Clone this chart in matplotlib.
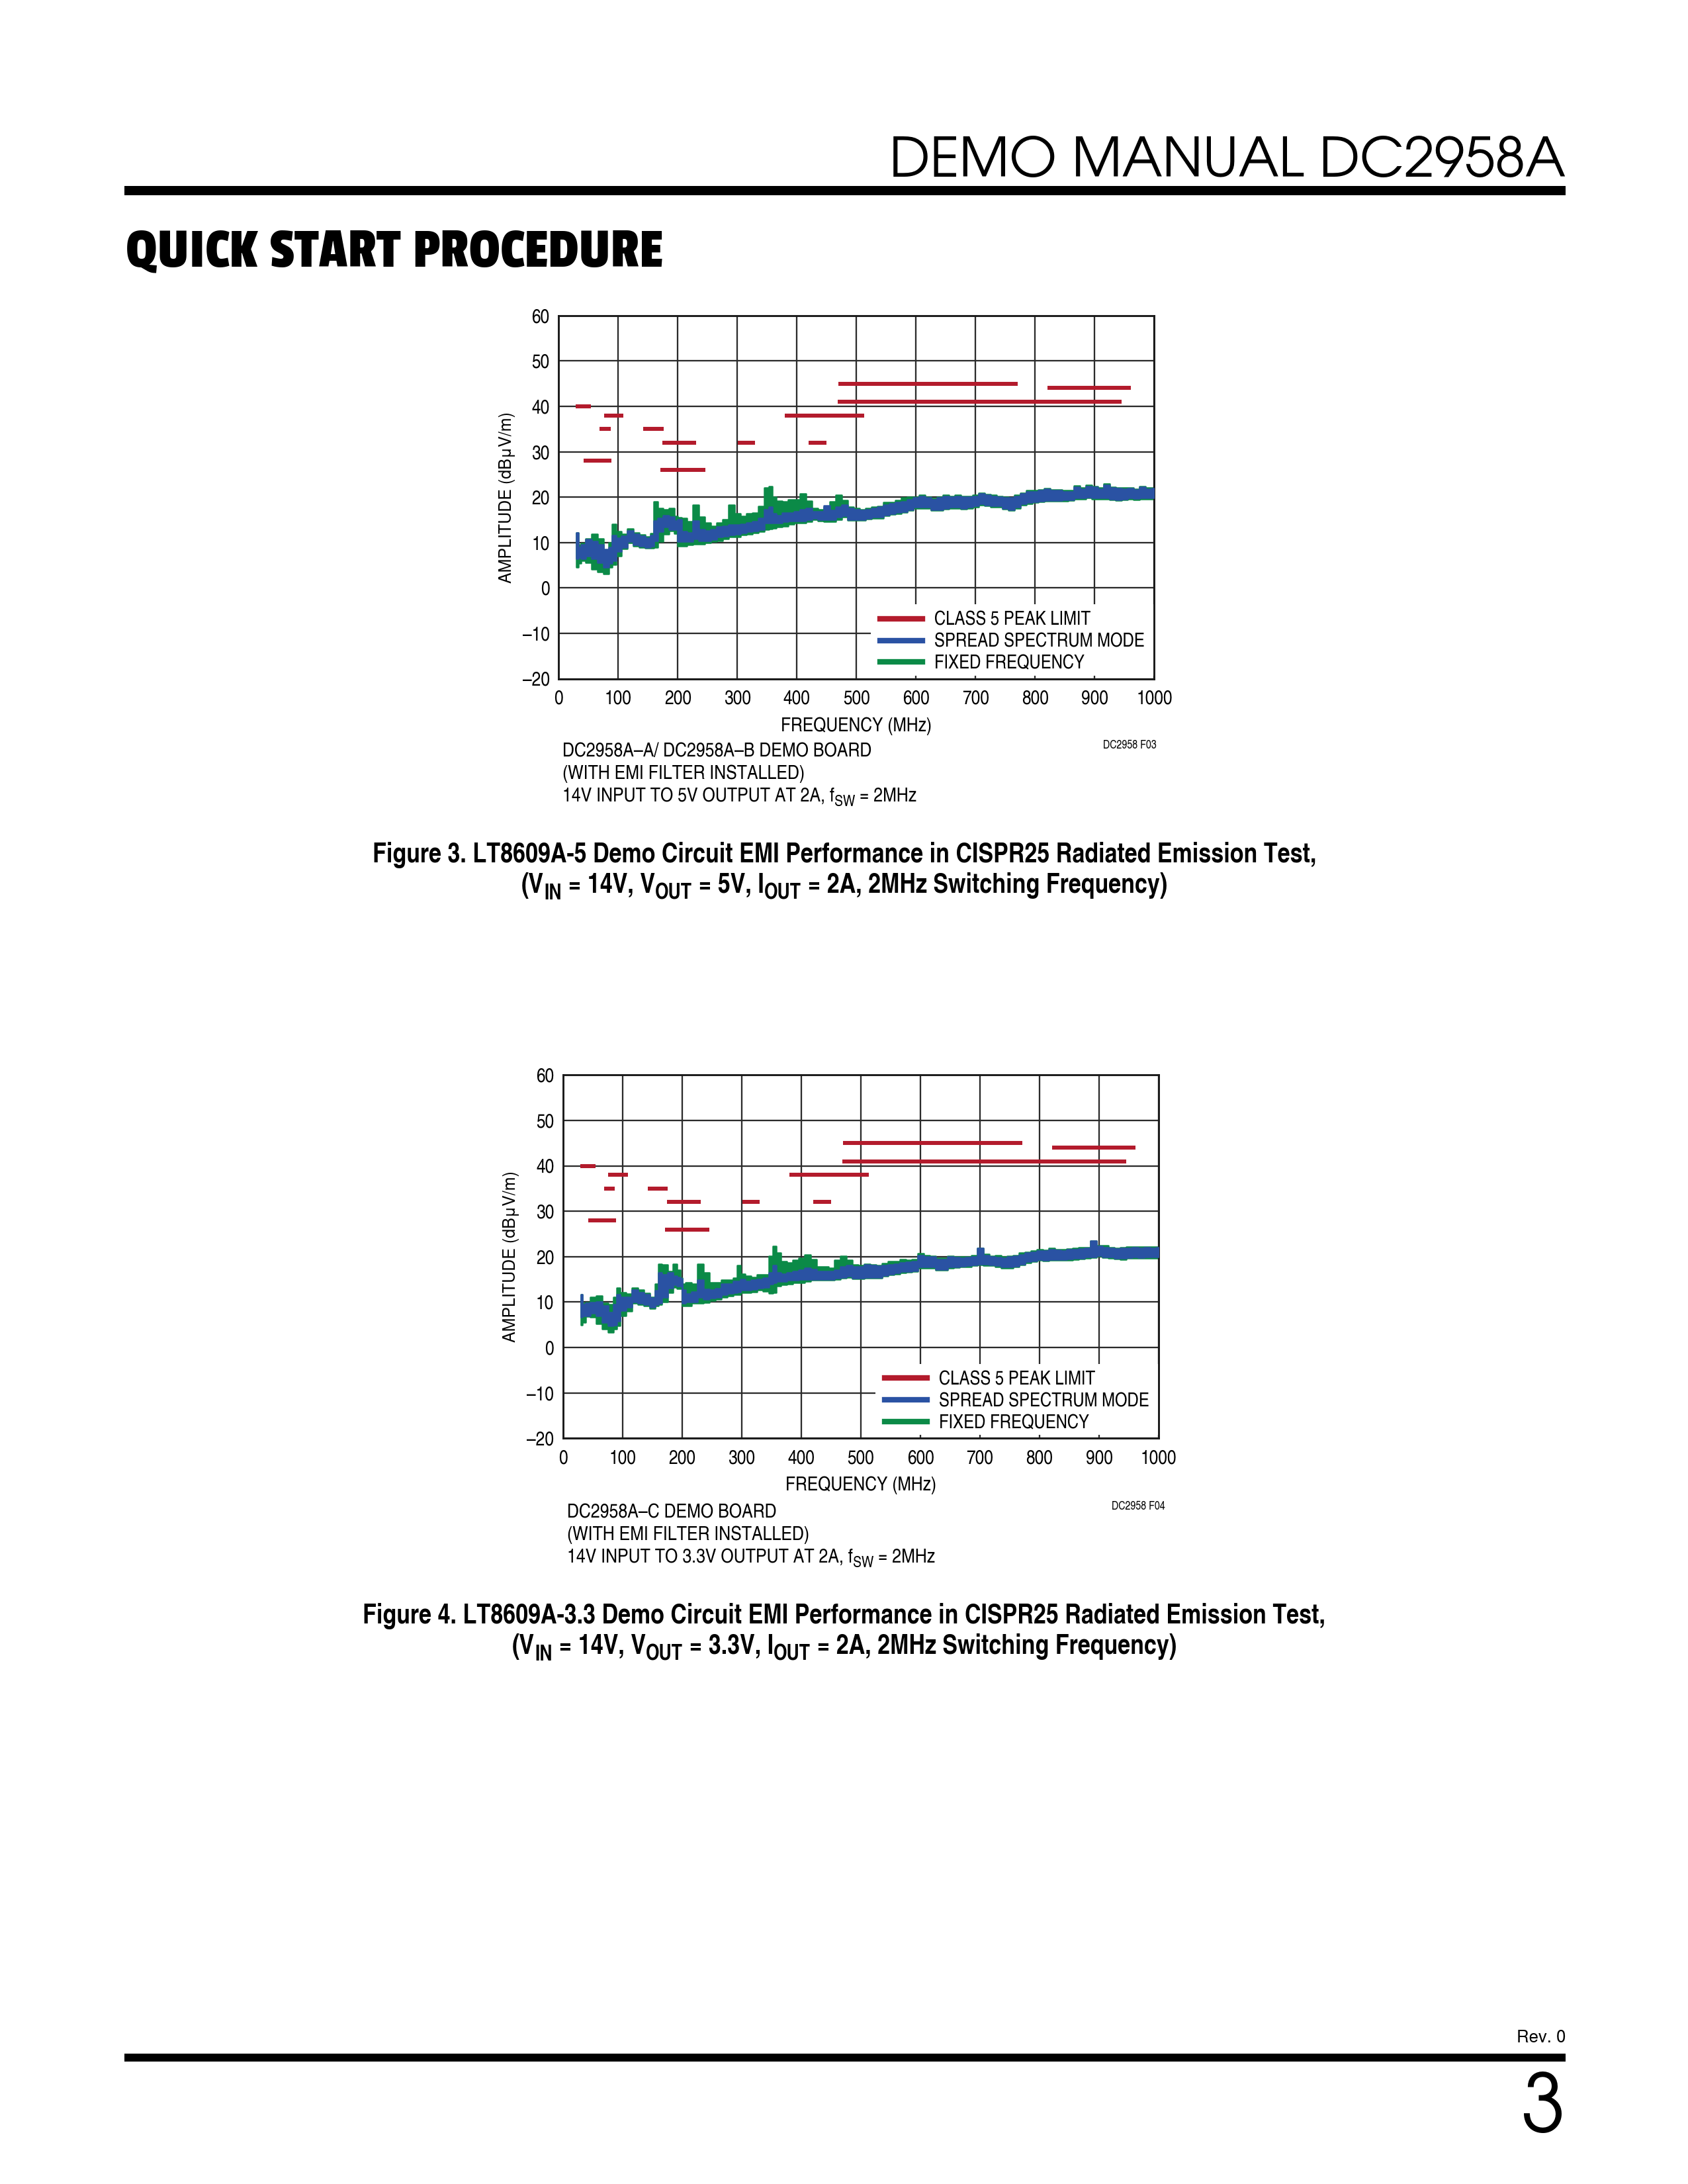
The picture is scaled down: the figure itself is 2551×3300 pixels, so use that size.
import numpy as np
import matplotlib
matplotlib.use("Agg")
import matplotlib.pyplot as plt
from matplotlib import font_manager as fm
from matplotlib.lines import Line2D
from matplotlib.patches import Rectangle

# ---------------- data ----------------
x_ticks = [0, 100, 200, 300, 400, 500, 600, 700, 800, 900, 1000]
y_ticks = [-20, -10, 0, 10, 20, 30, 40, 50, 60]
y_tick_labels = ["\u201320", "\u201310", "0", "10", "20", "30", "40", "50", "60"]

# CISPR25 class 5 peak limit segments (MHz, MHz, dBuV/m)
lim_start = [29, 42, 69, 76, 142, 174, 171, 301, 380, 420, 470, 469, 821]
lim_stop = [54, 89, 87, 109, 176, 231, 246, 330, 513, 450, 771, 945, 961]
lim_level = [40, 28, 35, 38, 35, 32, 26, 32, 38, 32, 45, 41, 44]

legend_labels = ["CLASS 5 PEAK LIMIT", "SPREAD SPECTRUM MODE", "FIXED FREQUENCY"]

# Figure 3 (LT8609A-5)
f3_freq = [30, 35, 40, 50, 60, 70, 80, 88, 92, 100, 110, 120, 130, 140, 150, 158, 162, 170, 180, 190,
           198, 202, 210, 220, 230, 240, 250, 260, 270, 280, 290, 300, 310, 320, 330, 340, 350, 356, 360, 370,
           380, 390, 400, 410, 420, 430, 440, 450, 460, 470, 480, 490, 500, 510, 520, 530, 540, 550, 560, 570,
           580, 590, 600, 610, 620, 630, 640, 650, 660, 670, 680, 690, 700, 710, 720, 730, 740, 750, 760, 770,
           780, 790, 800, 810, 820, 830, 840, 850, 860, 870, 880, 890, 900, 910, 920, 930, 940, 950, 960, 970,
           980, 990, 1000]
f3_ss_hi = [12.1, 9.0, 9.5, 10.7, 10.2, 9.5, 8.5, 9.0, 11.5, 11.0, 11.4, 12.6, 11.9, 11.4, 11.0, 11.5, 14.8, 15.3, 16.0, 15.6,
            14.8, 15.0, 12.4, 12.1, 14.8, 12.9, 12.6, 12.9, 13.4, 13.6, 13.9, 13.9, 14.1, 14.3, 14.6, 15.3, 17.3, 17.8, 16.3, 16.0,
            16.5, 16.5, 16.8, 17.3, 17.5, 16.8, 16.8, 18.1, 17.1, 17.8, 18.3, 17.6, 17.3, 17.1, 17.3, 17.6, 17.8, 18.3, 18.5, 18.8,
            19.0, 19.5, 19.8, 20.2, 19.8, 19.5, 19.8, 20.2, 20.0, 20.2, 20.0, 20.0, 20.2, 20.7, 20.4, 20.2, 20.0, 19.8, 19.8, 20.2,
            20.7, 21.2, 21.2, 21.4, 21.7, 21.4, 21.4, 21.2, 21.2, 22.2, 21.8, 22.4, 22.2, 21.8, 22.7, 22.0, 21.9, 21.8, 21.9, 21.6,
            22.2, 21.8, 21.9]
f3_ss_lo = [6.5, 6.8, 6.5, 7.0, 6.5, 5.6, 4.6, 5.5, 6.0, 8.0, 9.0, 10.2, 9.5, 9.2, 9.0, 9.2, 10.4, 12.4, 13.4, 12.9,
            12.9, 10.2, 10.2, 10.2, 10.9, 10.4, 10.4, 10.7, 11.2, 11.4, 11.7, 11.9, 12.1, 12.4, 12.6, 12.9, 14.3, 14.3, 14.3, 14.3,
            14.6, 14.8, 14.8, 14.8, 15.1, 15.3, 15.1, 15.1, 15.1, 15.6, 15.9, 15.1, 15.1, 15.1, 15.4, 15.6, 15.6, 16.1, 16.4, 16.6,
            16.8, 17.3, 17.8, 17.8, 17.8, 17.3, 17.3, 17.6, 17.8, 17.8, 17.6, 17.8, 18.1, 18.5, 18.3, 18.1, 18.1, 17.6, 17.3, 17.8,
            18.5, 18.8, 19.0, 19.2, 19.3, 19.3, 19.3, 19.4, 19.5, 19.8, 19.8, 20.0, 19.8, 19.8, 19.8, 19.6, 19.5, 19.6, 19.8, 19.7,
            19.8, 19.8, 19.8]
f3_ff_hi = [12.1, 9.5, 9.8, 10.8, 11.9, 10.9, 8.2, 10.0, 14.1, 12.4, 11.8, 13.0, 12.2, 11.7, 11.3, 12.0, 19.0, 17.5, 17.3, 17.5,
            15.8, 15.5, 15.3, 14.6, 18.3, 15.6, 14.3, 13.6, 14.3, 15.1, 18.2, 16.3, 15.8, 16.3, 16.5, 18.0, 22.1, 22.4, 20.0, 19.2,
            19.0, 19.5, 19.5, 20.8, 19.2, 17.5, 17.3, 17.9, 19.0, 20.5, 19.3, 17.8, 17.5, 17.3, 17.5, 17.8, 18.0, 18.8, 18.9, 19.3,
            19.8, 20.0, 20.0, 20.4, 20.0, 19.7, 20.0, 20.4, 20.2, 20.4, 20.2, 20.2, 20.4, 20.9, 20.6, 20.4, 20.2, 20.0, 19.9, 20.4,
            20.9, 21.4, 21.4, 21.6, 21.9, 21.6, 21.6, 21.4, 21.5, 22.5, 22.0, 22.6, 22.4, 22.0, 22.9, 22.2, 22.1, 22.0, 22.1, 21.8,
            22.4, 22.0, 22.1]
f3_ff_lo = [4.6, 5.5, 6.0, 5.6, 4.1, 3.6, 3.1, 4.5, 5.1, 7.0, 8.6, 9.9, 9.2, 8.9, 8.8, 8.8, 9.0, 10.2, 11.9, 12.6,
            12.0, 9.2, 9.2, 9.5, 9.7, 9.7, 10.0, 10.2, 10.4, 10.8, 11.2, 11.2, 11.7, 11.9, 12.1, 12.4, 12.9, 13.0, 13.1, 13.4,
            13.6, 14.1, 14.3, 14.3, 14.6, 15.1, 14.8, 14.6, 14.6, 15.1, 15.6, 14.9, 14.9, 14.9, 15.2, 15.4, 15.4, 15.9, 16.2, 16.4,
            16.6, 17.1, 17.6, 17.6, 17.6, 17.1, 17.1, 17.4, 17.6, 17.6, 17.4, 17.6, 17.9, 18.3, 18.1, 17.9, 17.9, 17.4, 17.1, 17.6,
            18.3, 18.6, 18.8, 19.0, 19.1, 19.1, 19.1, 19.2, 19.3, 19.6, 19.6, 19.8, 19.6, 19.6, 19.6, 19.4, 19.3, 19.4, 19.6, 19.5,
            19.6, 19.6, 19.6]

# Figure 4 (LT8609A-3.3)
f4_freq = [30, 35, 40, 50, 60, 70, 80, 88, 92, 100, 110, 120, 130, 140, 150, 158, 162, 170, 180, 188,
           195, 199, 202, 210, 220, 230, 240, 250, 260, 270, 280, 290, 295, 300, 310, 320, 330, 340, 350, 355,
           360, 370, 380, 390, 400, 410, 420, 430, 440, 450, 460, 470, 480, 490, 500, 510, 520, 530, 540, 550,
           560, 570, 580, 590, 600, 610, 620, 630, 640, 650, 660, 670, 680, 690, 700, 710, 720, 730, 740, 750,
           760, 770, 780, 790, 800, 810, 820, 830, 840, 850, 860, 870, 880, 890, 900, 910, 920, 930, 940, 950,
           960, 970, 980, 990, 1000]
f4_ss_hi = [11.6, 9.5, 9.7, 9.9, 10.1, 9.2, 7.7, 9.5, 11.6, 11.1, 11.1, 12.6, 12.1, 11.6, 10.9, 12.5, 16.5, 16.0, 16.5, 15.8,
            15.5, 15.2, 12.6, 11.8, 12.3, 14.8, 12.8, 12.6, 13.0, 14.0, 14.0, 14.5, 14.6, 15.0, 14.5, 14.8, 15.0, 15.3, 16.5, 18.0,
            16.5, 16.2, 16.5, 16.7, 17.0, 17.5, 17.2, 16.7, 16.7, 16.7, 17.0, 17.7, 18.0, 17.7, 17.7, 18.2, 18.0, 17.9, 18.0, 18.2,
            18.4, 18.6, 18.8, 18.9, 20.3, 20.0, 19.9, 19.4, 19.4, 19.9, 19.8, 19.6, 19.8, 19.9, 21.8, 20.3, 19.9, 19.8, 19.6, 19.9,
            20.1, 20.4, 20.8, 21.0, 21.3, 21.2, 21.6, 21.4, 21.3, 21.5, 21.6, 21.7, 21.8, 23.5, 22.3, 22.0, 21.8, 21.7, 21.8, 21.9,
            22.0, 21.9, 22.0, 21.9, 22.0]
f4_ss_lo = [6.7, 7.0, 7.0, 7.5, 7.0, 5.5, 4.8, 5.0, 5.8, 8.2, 8.9, 10.1, 9.7, 9.4, 8.9, 9.5, 9.7, 11.1, 13.1, 13.8,
            13.6, 13.5, 9.7, 10.1, 10.1, 11.1, 10.6, 10.9, 11.1, 11.6, 11.9, 12.1, 12.2, 12.6, 12.6, 12.8, 13.1, 13.3, 14.0, 14.3,
            14.5, 14.5, 14.8, 14.8, 15.0, 15.0, 15.0, 15.0, 15.0, 15.0, 15.3, 15.5, 15.8, 15.3, 15.3, 15.5, 15.5, 15.5, 15.9, 16.2,
            16.4, 16.7, 16.8, 16.9, 17.7, 17.7, 17.7, 17.2, 17.2, 17.7, 17.8, 17.9, 18.0, 18.2, 18.4, 18.3, 18.2, 18.0, 17.7, 17.7,
            17.9, 18.4, 18.9, 19.1, 19.4, 19.3, 19.4, 19.4, 19.4, 19.5, 19.6, 19.7, 19.9, 20.0, 20.3, 20.0, 19.9, 19.7, 19.6, 19.8,
            19.9, 19.8, 19.9, 19.9, 19.9]
f4_ff_hi = [11.6, 9.8, 9.9, 11.1, 11.4, 9.7, 9.4, 11.0, 13.1, 12.1, 11.8, 13.1, 12.6, 11.9, 11.1, 14.0, 18.4, 18.2, 16.7, 18.4,
            17.0, 15.3, 14.0, 14.3, 14.0, 18.4, 16.5, 14.3, 14.3, 14.8, 14.9, 15.3, 18.0, 16.2, 15.8, 15.5, 16.0, 16.0, 20.1, 22.3,
            20.9, 18.9, 18.7, 19.2, 19.7, 20.4, 19.4, 17.7, 17.7, 17.5, 19.2, 20.1, 19.2, 18.2, 18.0, 18.4, 18.2, 18.1, 18.5, 18.9,
            19.0, 19.4, 19.3, 19.4, 20.7, 20.2, 20.1, 19.6, 19.7, 20.1, 20.0, 19.9, 20.0, 20.2, 21.9, 20.5, 20.1, 20.2, 19.9, 20.1,
            20.3, 20.8, 21.0, 21.2, 21.5, 21.4, 21.8, 21.6, 21.5, 21.7, 21.8, 22.0, 22.0, 23.5, 22.5, 22.4, 22.0, 21.9, 22.0, 22.1,
            22.2, 22.1, 22.2, 22.1, 22.1]
f4_ff_lo = [5.0, 5.5, 6.8, 6.7, 5.3, 4.1, 3.3, 4.0, 4.8, 7.0, 8.0, 9.8, 9.4, 9.1, 8.6, 9.2, 9.4, 10.1, 12.1, 13.2,
            13.0, 13.0, 9.2, 9.2, 9.7, 9.7, 9.9, 10.4, 10.6, 11.0, 11.3, 11.6, 11.7, 12.1, 12.1, 12.3, 12.6, 12.4, 11.9, 12.1,
            13.6, 13.8, 14.0, 14.3, 14.3, 14.5, 14.8, 14.8, 14.8, 14.8, 15.0, 15.3, 15.5, 15.1, 15.1, 15.3, 15.3, 15.3, 15.7, 16.0,
            16.2, 16.5, 16.6, 16.7, 17.5, 17.5, 17.5, 17.0, 17.0, 17.5, 17.6, 17.7, 17.8, 18.0, 18.2, 18.1, 18.0, 17.8, 17.5, 17.5,
            17.7, 18.2, 18.7, 18.9, 19.2, 19.1, 19.2, 19.2, 19.2, 19.3, 19.4, 19.5, 19.7, 19.8, 20.1, 19.8, 19.7, 19.5, 19.4, 19.6,
            19.7, 19.6, 19.7, 19.7, 19.7]

# ---------------- style ----------------
RED = "#B31B2C"
BLUE = "#2A52A3"
GREEN = "#0B8A47"
GRID = "#2b2b2b"

W, H, DPI = 2551, 3300, 300
names = {f.name for f in fm.fontManager.ttflist}


def pick(cands, default):
    for c in cands:
        if c in names:
            return c
    return default


COND = pick(["TeX Gyre Heros Cn", "Nimbus Sans Narrow", "Roboto Condensed", "Archivo Narrow"], "Liberation Sans")
REG = pick(["TeX Gyre Heros", "Nimbus Sans", "Liberation Sans"], "DejaVu Sans")
THIN = pick(["TeX Gyre Adventor", "URW Gothic", "Questrial", "Didact Gothic"], "DejaVu Sans")
HEAVY = pick(["Passion One", "Russo One", "Anton"], "DejaVu Sans")

fig = plt.figure(figsize=(W / DPI, H / DPI), dpi=DPI)
renderer = fig.canvas.get_renderer()


def fx(px):
    return px / W


def fy(py):
    return 1.0 - py / H


def text_width(s, **kw):
    t1 = fig.text(0, 0, "|" + s + "|", **kw)
    t2 = fig.text(0, 0, "||", **kw)
    w = t1.get_window_extent(renderer).width - t2.get_window_extent(renderer).width
    t1.remove()
    t2.remove()
    return w


def fit_size(s, target_px, size0=10, **kw):
    w = text_width(s, size=size0, **kw)
    return size0 * target_px / w


def draw_runs(x_px, base_px, runs, size, ha="left", sub_scale=0.78, **kw):
    widths = []
    for s, sub in runs:
        widths.append(text_width(s, size=size * (sub_scale if sub else 1.0), **kw))
    total = sum(widths)
    x = x_px - (total / 2 if ha == "center" else 0)
    drop = 0.24 * size * DPI / 72.0
    for (s, sub), w in zip(runs, widths):
        fig.text(fx(x), fy(base_px + (drop if sub else 0)), s,
                 size=size * (sub_scale if sub else 1.0), ha="left", va="baseline", **kw)
        x += w


def hrule(y_px, x0, x1, thick_px):
    fig.add_artist(Line2D([fx(x0), fx(x1)], [fy(y_px), fy(y_px)], transform=fig.transFigure,
                          color="black", lw=thick_px * 72.0 / DPI, solid_capstyle="butt"))


# ---------------- page furniture ----------------
hdr = "DEMO MANUAL DC2958A"
hdr_size = fit_size(hdr, 1022, family=THIN)
fig.text(fx(2366), fy(267), hdr, size=hdr_size, family=THIN, ha="right", va="baseline")
hrule(288, 188, 2366, 14)

ttl = "QUICK START PROCEDURE"
ttl_size = fit_size(ttl, 813, family=HEAVY)
fig.text(fx(190), fy(403), ttl, size=ttl_size, family=HEAVY, ha="left", va="baseline")

fig.text(fx(2366), fy(3080), "Rev. 0", size=6.2, family=REG, ha="right", va="center")
hrule(3109, 188, 2366, 12)
fig.text(fx(2366), fy(3221), "3", size=29, family=THIN, ha="right", va="baseline")


# ---------------- charts ----------------
def make_chart(left_px, top_px, freq, ss_hi, ss_lo, ff_hi, ff_lo):
    w_px, h_px = 900, 548.8
    ax = fig.add_axes([fx(left_px), fy(top_px + h_px), w_px / W, h_px / H])
    ax.set_xlim(0, 1000)
    ax.set_ylim(-20, 60)
    ax.set_xticks(x_ticks)
    ax.set_yticks(y_ticks)
    ax.set_yticklabels(y_tick_labels)
    ax.set_axisbelow(True)
    ax.grid(True, color=GRID, lw=0.55)
    ax.tick_params(length=0, labelsize=7.2)
    ax.tick_params(axis="y", pad=3.3)
    ax.tick_params(axis="x", pad=4.2)
    for lab in ax.get_xticklabels() + ax.get_yticklabels():
        lab.set_family(COND)
    for sp in ax.spines.values():
        sp.set_color("#1a1a1a")
        sp.set_linewidth(0.7)
    # white legend background hides the grid
    ax.add_patch(Rectangle((524, -19.3), 476, 15.7, facecolor="white", edgecolor="none", zorder=1))
    ax.fill_between(freq, ff_lo, ff_hi, step="mid", color=GREEN, lw=0.6, zorder=2)
    ax.fill_between(freq, ss_lo, ss_hi, step="mid", color=BLUE, lw=0.6, zorder=3)
    ax.hlines(lim_level, lim_start, lim_stop, color=RED, lw=1.45, zorder=4)
    handles = [Line2D([], [], color=RED, lw=2.0), Line2D([], [], color=BLUE, lw=2.0),
               Line2D([], [], color=GREEN, lw=2.0)]
    leg = ax.legend(handles, legend_labels, loc="upper left", bbox_to_anchor=(0.54, 0.185),
                    frameon=False, borderpad=0, borderaxespad=0, handlelength=2.2,
                    handletextpad=0.6, labelspacing=0.2, prop={"family": COND, "size": 7.0})
    leg.set_zorder(5)
    ax.set_xlabel("FREQUENCY (MHz)", family=COND, size=7.2)
    ax.xaxis.set_label_coords(0.5, -0.105)
    ax.set_ylabel("AMPLITUDE (dB\u03bcV/m)", family=REG, size=6.0)
    ax.yaxis.set_label_coords(-0.073, 0.5)
    return ax


make_chart(844.3, 476.7, f3_freq, f3_ss_hi, f3_ss_lo, f3_ff_hi, f3_ff_lo)
make_chart(851.0, 1624.3, f4_freq, f4_ss_hi, f4_ss_lo, f4_ff_hi, f4_ff_lo)

NOTE = dict(family=COND)
note_size = fit_size("DC2958A\u2013A/ DC2958A\u2013B DEMO BOARD", 468, **NOTE)


def notes(x_px, base_px, board, out_v, tag, tag_right, tag_base):
    fig.text(fx(x_px), fy(base_px), board, size=note_size, ha="left", va="baseline", **NOTE)
    fig.text(fx(x_px), fy(base_px + 34), "(WITH EMI FILTER INSTALLED)", size=note_size,
             ha="left", va="baseline", **NOTE)
    draw_runs(x_px, base_px + 68, [("14V INPUT TO " + out_v + " OUTPUT AT 2A, f", 0), ("SW", 1),
                                   (" = 2MHz", 0)], note_size, **NOTE)
    fig.text(fx(tag_right), fy(tag_base), tag, size=4.2, ha="right", va="baseline", **NOTE)


notes(850, 1143, "DC2958A\u2013A/ DC2958A\u2013B DEMO BOARD", "5V", "DC2958 F03", 1748, 1131)
notes(857, 2293, "DC2958A\u2013C DEMO BOARD", "3.3V", "DC2958 F04", 1761, 2281)

CAP = dict(family=COND, weight="bold")
cap1 = "Figure 3. LT8609A-5 Demo Circuit EMI Performance in CISPR25 Radiated Emission Test,"
cap_size = fit_size(cap1, 1427, **CAP)
fig.text(fx(1276), fy(1303), cap1, size=cap_size, ha="center", va="baseline", **CAP)
draw_runs(1276, 1349, [("(V", 0), ("IN", 1), (" = 14V, V", 0), ("OUT", 1), (" = 5V, I", 0), ("OUT", 1),
                       (" = 2A, 2MHz Switching Frequency)", 0)], cap_size, ha="center", **CAP)
cap2 = "Figure 4. LT8609A-3.3 Demo Circuit EMI Performance in CISPR25 Radiated Emission Test,"
fig.text(fx(1276), fy(2453), cap2, size=cap_size, ha="center", va="baseline", **CAP)
draw_runs(1276, 2499, [("(V", 0), ("IN", 1), (" = 14V, V", 0), ("OUT", 1), (" = 3.3V, I", 0), ("OUT", 1),
                       (" = 2A, 2MHz Switching Frequency)", 0)], cap_size, ha="center", **CAP)

fig.savefig("out.png", dpi=DPI)
